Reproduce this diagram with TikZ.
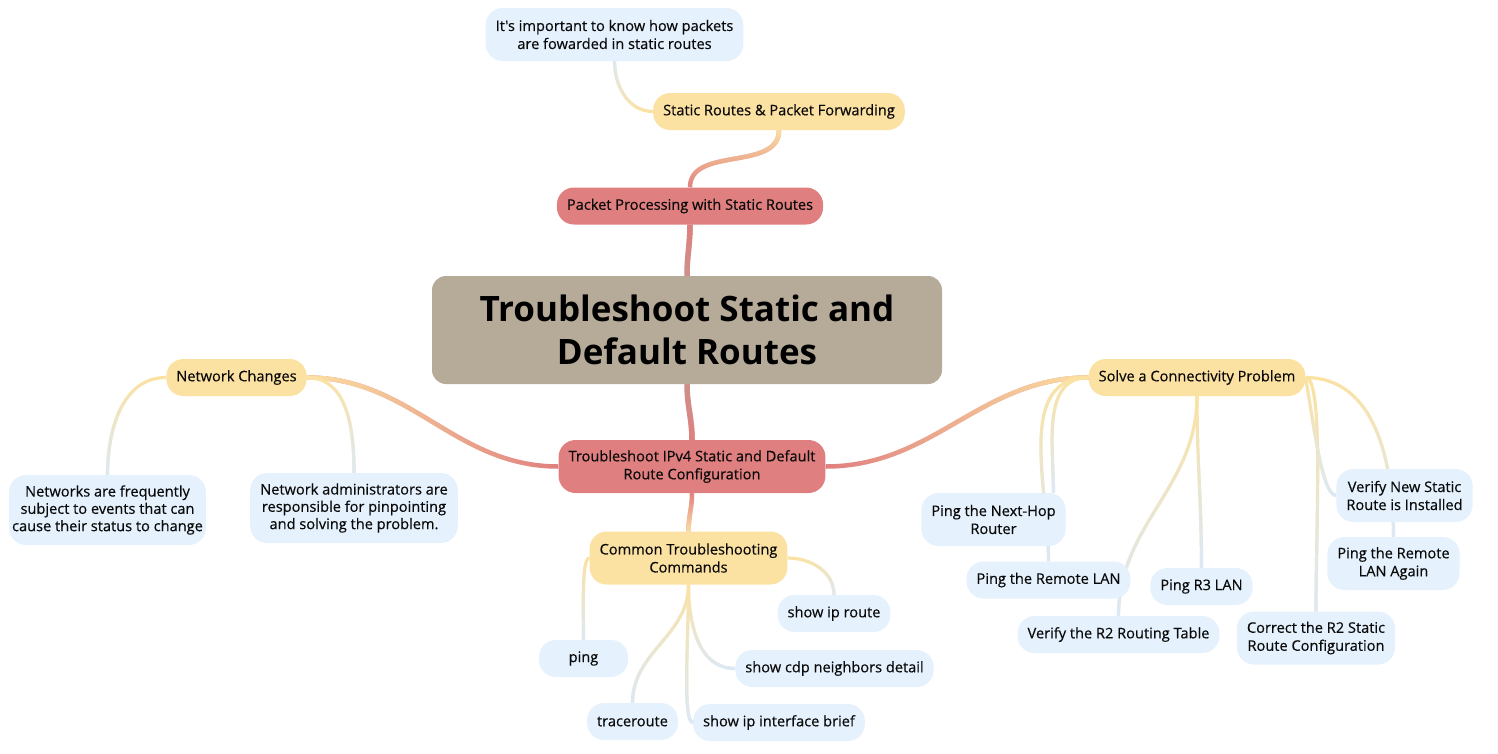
\documentclass[tikz,border=0pt]{standalone}
\usepackage{fontspec}
\setmainfont{Open Sans}
\newfontfamily\topicfont{Open Sans}[FakeBold=0.4]
\usetikzlibrary{backgrounds,fadings}

\definecolor{rootcol}{RGB}{182,170,153}
\definecolor{redcol}{RGB}{224,127,127}
\definecolor{yelcol}{RGB}{252,226,162}
\definecolor{blucol}{RGB}{229,241,252}
\definecolor{twigend}{RGB}{218,234,250}
\definecolor{inkcol}{RGB}{10,10,10}

\tikzset{
	topic/.style={rounded corners=17pt,inner xsep=10pt,inner ysep=4pt,minimum height=37pt,align=center,text=inkcol,font=\topicfont\fontsize{14.6}{18}\selectfont},
	redbox/.style={topic,fill=redcol},
	yelbox/.style={topic,fill=yelcol},
	blubox/.style={topic,fill=blucol},
	twoline/.style={minimum height=53pt},
	threeline/.style={minimum height=70pt,font=\topicfont\fontsize{14.6}{17.3}\selectfont},
	trunk/.style={line width=5.5pt},
	limb/.style={line width=4.5pt},
	twig/.style={line width=3.2pt}
}

\begin{document}
\begin{tikzpicture}[x=1pt,y=-1pt]
	\useasboundingbox (0,0) rectangle (1498,753);

	% Central topic
	\node[fill=rootcol,rounded corners=14pt,minimum width=510pt,minimum height=108pt,align=center,text=black,font=\fontsize{35}{43}\selectfont\bfseries] (root) at (687,330) {Troubleshoot Static and\\Default Routes};

	% Main branches
	\node[redbox] (pp) at (690,206) {Packet Processing with Static Routes};
	\node[redbox,twoline] (tr) at (692,466.5) {Troubleshoot IPv4 Static and Default\\Route Configuration};

	% Sub-topics
	\node[yelbox] (sr) at (779,111.5) {Static Routes \& Packet Forwarding};
	\node[yelbox] (nc) at (236.5,377.5) {Network Changes};
	\node[yelbox,twoline] (ct) at (688.5,558) {Common Troubleshooting\\Commands};
	\node[yelbox] (sol) at (1197,377.5) {Solve a Connectivity Problem};

	% Details
	\node[blubox,twoline] (imp) at (614.5,34.5) {It's important to know how packets\\are fowarded in static routes};
	\node[blubox,threeline,inner xsep=3pt] (nf) at (107.5,510) {Networks are frequently\\subject to events that can\\cause their status to change};
	\node[blubox,threeline] (na) at (354,508) {Network administrators are\\responsible for pinpointing\\and solving the problem.};
	\node[blubox,minimum width=89pt] (ping) at (583.5,658.5) {ping};
	\node[blubox] (sir) at (834,613.5) {show ip route};
	\node[blubox] (cdp) at (834.5,668.5) {show cdp neighbors detail};
	\node[blubox] (trc) at (632.5,721.5) {traceroute};
	\node[blubox] (sib) at (779,722.5) {show ip interface brief};
	\node[blubox,twoline] (nh) at (993.5,519.5) {Ping the Next-Hop\\Router};
	\node[blubox] (rl) at (1048.5,580) {Ping the Remote LAN};
	\node[blubox] (r3) at (1201.5,586.5) {Ping R3 LAN};
	\node[blubox] (rt) at (1118.5,634.5) {Verify the R2 Routing Table};
	\node[blubox,twoline] (cor) at (1316,638) {Correct the R2 Static\\Route Configuration};
	\node[blubox,twoline] (vn) at (1404.5,495.5) {Verify New Static\\Route is Installed};
	\node[blubox,twoline] (pa) at (1393.5,563.5) {Ping the Remote\\LAN Again};

	\begin{scope}[on background layer]
		% Centre to main branches
		\draw[trunk,rootcol!45!redcol] (root.north) to[out=90,in=-90] (pp.south);
		\draw[trunk,redcol,path fading=south] (root.north) to[out=90,in=-90] (pp.south);
		\draw[trunk,rootcol!45!redcol] (root.south) to[out=-90,in=90] (tr.north);
		\draw[trunk,redcol,path fading=north] (root.south) to[out=-90,in=90] (tr.north);

		% Main branches to sub-topics
		\foreach \a/\o/\i/\b/\f in {pp.north/90/-90/sr.south/south,tr.west/180/0/nc.east/east,tr.east/0/180/sol.west/west,tr.south/-90/90/ct.north/north}{
			\draw[limb,redcol] (\a) to[out=\o,in=\i] (\b);
			\draw[limb,yelcol,path fading=\f] (\a) to[out=\o,in=\i] (\b);
		}

		% Sub-topics to details
		\foreach \a/\o/\i/\b/\f in {sr.west/180/-90/imp.south/south,nc.west/180/90/nf.north/north,nc.east/0/90/na.north/north,
			ct.east/0/90/sir.north/north,ct.south/-90/90/trc.north/north,ct.south/-90/180/cdp.west/north,
			sol.west/180/90/nh.24/north,sol.west/180/90/rl.north/north,sol.south/-90/90/rt.north/north,
			sol.south/-90/90/r3.north/north,sol.east/0/90/pa.north/north}{
			\draw[twig,yelcol] (\a) to[out=\o,in=\i] (\b);
			\draw[twig,twigend,path fading=\f] (\a) to[out=\o,in=\i] (\b);
		}
		\draw[twig,yelcol] (ct.west) to[out=180,in=90,out looseness=0.25] (ping.north);
		\draw[twig,twigend,path fading=north] (ct.west) to[out=180,in=90,out looseness=0.25] (ping.north);
		\draw[twig,yelcol] (ct.south) to[out=-90,in=180,in looseness=0.2] (sib.west);
		\draw[twig,twigend,path fading=north] (ct.south) to[out=-90,in=180,in looseness=0.2] (sib.west);
		\draw[twig,yelcol] (sol.east) to[out=0,in=90,out looseness=0.2] (cor.north);
		\draw[twig,twigend,path fading=north] (sol.east) to[out=0,in=90,out looseness=0.2] (cor.north);
		\draw[twig,yelcol] (sol.east) to[out=-80,in=180,in looseness=0.3] (vn.west);
		\draw[twig,twigend,path fading=north] (sol.east) to[out=-80,in=180,in looseness=0.3] (vn.west);
	\end{scope}
\end{tikzpicture}
\end{document}
